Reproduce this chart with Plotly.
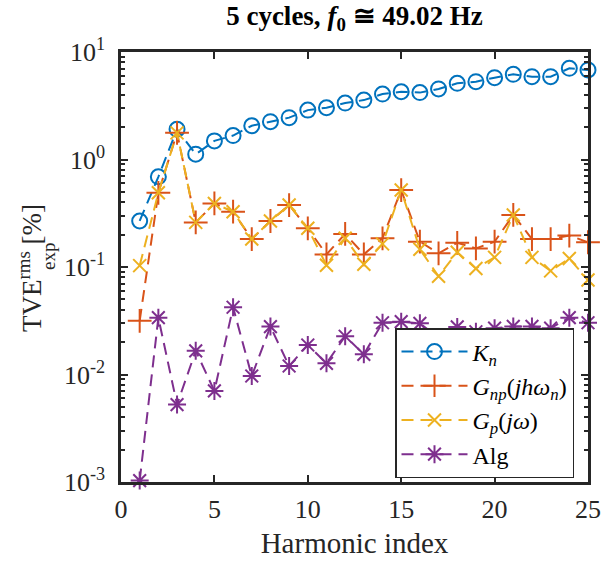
import plotly.graph_objects as go

# Harmonic index and TVE (rms, %) per method
harmonic = list(range(1, 26))
kn = [0.268, 0.69, 1.91, 1.12, 1.49, 1.67, 2.06, 2.25, 2.45, 2.88, 3.03, 3.35, 3.57,
      4.06, 4.27, 4.19, 4.53, 5.11, 5.30, 5.77, 6.20, 5.89, 5.89, 7.05, 6.81]
gnp = [0.0316, 0.49, 1.77, 0.26, 0.39, 0.327, 0.182, 0.268, 0.377, 0.229, 0.131, 0.203, 0.131,
       0.185, 0.52, 0.172, 0.134, 0.168, 0.149, 0.172, 0.305, 0.182, 0.182, 0.196, 0.17]
gp = [0.103, 0.49, 1.77, 0.26, 0.39, 0.327, 0.182, 0.268, 0.377, 0.229, 0.104, 0.185, 0.106,
      0.164, 0.52, 0.146, 0.082, 0.137, 0.097, 0.123, 0.305, 0.123, 0.092, 0.12, 0.0757]
alg = [0.00103, 0.0338, 0.00525, 0.0166, 0.00703, 0.0422, 0.00968, 0.0279, 0.012, 0.0188,
       0.0127, 0.0227, 0.0154, 0.0303, 0.031, 0.0299, 0.022, 0.0277, 0.025, 0.027, 0.028,
       0.028, 0.027, 0.0338, 0.0303]

series_names = ["<i>K</i><sub><i>n</i></sub>",
                "<i>G</i><sub><i>np</i></sub>(<i>jhω</i><sub><i>n</i></sub>)",
                "<i>G</i><sub><i>p</i></sub>(<i>jω</i>)",
                "Alg"]

x_ticks = [0, 5, 10, 15, 20, 25]
y_ticks = [1e-3, 1e-2, 1e-1, 1e0, 1e1]
y_ticktext = ["10<sup>-3</sup>", "10<sup>-2</sup>", "10<sup>-1</sup>", "10<sup>0</sup>", "10<sup>1</sup>"]
y_minor = [m * 10 ** e for e in range(-3, 1) for m in range(2, 10)]

FONT = "Liberation Serif, Times New Roman, DejaVu Serif, serif"
AX = "#262626"

styles = [
    dict(color="#0072BD", symbol="circle-open", size=15),
    dict(color="#D95319", symbol="cross-thin-open", size=17),
    dict(color="#EDB120", symbol="x-thin-open", size=13),
    dict(color="#7E2F8E", symbol="asterisk-open", size=15),
]

fig = go.Figure()
for name, ys, st in zip(series_names, [kn, gnp, gp, alg], styles):
    fig.add_trace(go.Scatter(
        x=harmonic, y=ys, name=name, mode="lines+markers",
        line=dict(color=st["color"], width=2, dash="12px,7px"),
        marker=dict(symbol=st["symbol"], size=st["size"], color=st["color"],
                    line=dict(color=st["color"], width=2)),
        cliponaxis=False,
    ))

axis_common = dict(
    showline=True, linewidth=2.5, linecolor=AX, mirror="ticks",
    ticks="inside", tickcolor=AX, tickwidth=2, ticklen=7,
    showgrid=False, zeroline=False,
    tickfont=dict(family=FONT, size=26, color=AX),
)

fig.update_layout(
    width=611, height=563,
    margin=dict(l=121, r=23, t=52, b=81, autoexpand=False),
    paper_bgcolor="white", plot_bgcolor="white",
    font=dict(family=FONT, color=AX),
    title=dict(text="<b>5 cycles, <i>f</i><sub>0</sub> ≅ 49.02 Hz</b>",
               x=0.5, xref="paper", y=1 - 16 / 563, yref="container",
               xanchor="center", yanchor="middle",
               font=dict(family=FONT, size=27, color="black")),
    xaxis=dict(range=[0, 25], tickvals=x_ticks, ticklabelstandoff=2,
               title=dict(text="Harmonic index", standoff=10,
                          font=dict(family=FONT, size=29, color=AX)),
               **axis_common),
    yaxis=dict(type="log", range=[-3, 1], tickvals=y_ticks, ticktext=y_ticktext,
               ticklabelstandoff=8,
               minor=dict(tickvals=y_minor, ticks="inside", ticklen=4, tickwidth=1.5,
                          tickcolor=AX, showgrid=False),
               **axis_common),
    legend=dict(x=(395 - 121) / 467, y=(482 - 328) / 430, xanchor="left", yanchor="top",
                bgcolor="white", bordercolor=AX, borderwidth=1.5,
                font=dict(family=FONT, size=24, color="black"),
                itemwidth=66, tracegroupgap=0),
    showlegend=True,
)

# Y-axis label with stacked super/subscript
fig.add_annotation(text="TVE<sup>rms</sup> [%]", textangle=-90,
                   xref="paper", yref="paper", x=0, y=(482 - 268) / 430,
                   xanchor="center", yanchor="middle", xshift=-91,
                   showarrow=False, font=dict(family=FONT, size=27, color=AX))
fig.add_annotation(text="exp", textangle=-90,
                   xref="paper", yref="paper", x=0, y=(482 - 257) / 430,
                   xanchor="center", yanchor="middle", xshift=-73,
                   showarrow=False, font=dict(family=FONT, size=19, color=AX))

fig.write_html("out.html")
